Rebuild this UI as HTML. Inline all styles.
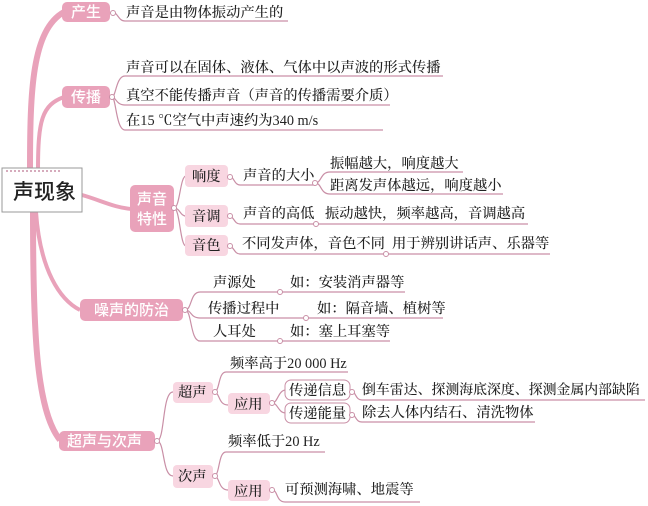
<!DOCTYPE html>
<html><head><meta charset="utf-8"><style>
html,body{margin:0;padding:0;background:#fff;width:648px;height:506px;overflow:hidden}
svg{display:block}
text{font-family:"Liberation Serif","Noto Serif CJK SC","Noto Sans CJK SC",serif;font-size:14.3px;fill:#222;font-weight:500}
.w{fill:#fff;font-family:"Liberation Sans","Noto Sans CJK SC",sans-serif;font-size:15px}
.l{stroke:#c98fa6;stroke-width:1.2;fill:none}
.dot{fill:#fff;stroke:#c98fa6;stroke-width:1}
.big{fill:#e9a2ba}
.sm{fill:#f8d6e1}
</style></head><body>
<svg width="648" height="506" viewBox="0 0 648 506">
<path d="M30 170 C30 90 32 30 64 12" stroke="#e9a2ba" stroke-width="6" fill="none"/>
<path d="M38 170 C38 120 42 105 64 97" stroke="#e9a2ba" stroke-width="4" fill="none"/>
<path d="M82 195 C100 200 115 208 132 209" stroke="#e9a2ba" stroke-width="4" fill="none"/>
<path d="M36 212 C40 270 60 300 80 310" stroke="#e9a2ba" stroke-width="4" fill="none"/>
<path d="M33 212 C33 330 36 410 60 440" stroke="#e9a2ba" stroke-width="6" fill="none"/>
<rect x="2" y="168" width="80" height="44" fill="#fff" stroke="#999" stroke-width="1"/>
<line x1="6" y1="171" x2="60" y2="171" stroke="#c98fa6" stroke-width="1.5" stroke-dasharray="2,2"/>
<text x="13" y="199" style="font-size:21px;font-family:'Liberation Sans','Noto Sans CJK SC',sans-serif">声现象</text>

<rect class="big" x="62" y="2" width="48" height="20" rx="5"/>
<text class="w" x="71" y="17">产生</text>
<path class="l" d="M112 12 C118 12 118 21 125 21 L288 21"/>
<circle class="dot" cx="113" cy="13" r="2.5"/>
<text x="126" y="17">声音是由物体振动产生的</text>

<rect class="big" x="62" y="86" width="48" height="22" rx="5"/>
<text class="w" x="71" y="102">传播</text>
<path class="l" d="M112 97 C116 97 116 76 125 76 L443 76"/>
<path class="l" d="M112 97 C116 97 116 105 125 105 L390 105"/>
<path class="l" d="M112 97 C116 97 116 130 125 130 L383 130"/>
<circle class="dot" cx="112" cy="97" r="2.5"/>
<text x="126" y="72">声音可以在固体、液体、气体中以声波的形式传播</text>
<text x="126" y="100">真空不能传播声音（声音的传播需要介质）</text>
<text x="126" y="125">在15 ℃空气中声速约为340 m/s</text>

<rect class="big" x="130" y="185" width="44" height="47" rx="5"/>
<text class="w" x="137" y="204">声音</text>
<text class="w" x="137" y="224">特性</text>
<path class="l" d="M174 208 C180 208 180 176 186 176"/>
<path class="l" d="M174 208 C180 208 180 216 186 216"/>
<path class="l" d="M174 208 C180 208 180 246 186 246"/>
<circle class="dot" cx="174" cy="208" r="2.5"/>
<rect class="sm" x="185" y="165" width="43" height="22" rx="4"/>
<text x="192" y="181">响度</text>
<rect class="sm" x="185" y="205" width="43" height="22" rx="4"/>
<text x="192" y="221">音调</text>
<rect class="sm" x="185" y="235" width="43" height="21" rx="4"/>
<text x="192" y="250">音色</text>
<path class="l" d="M229 176 C234 176 234 185 240 185 L315 185"/>
<circle class="dot" cx="230" cy="177" r="2.5"/>
<text x="243" y="180">声音的大小</text>
<path class="l" d="M315 183 C322 183 320 172 330 172 L463 172"/>
<path class="l" d="M315 183 C322 183 320 194 330 194 L503 194"/>
<circle class="dot" cx="315" cy="183" r="2.5"/>
<text x="330" y="168">振幅越大，响度越大</text>
<text x="330" y="190">距离发声体越远，响度越小</text>
<path class="l" d="M229 216 C234 216 234 224 240 224 L528 224"/>
<circle class="dot" cx="230" cy="216" r="2.5"/>
<circle class="dot" cx="316" cy="224" r="2.5"/>
<text x="243" y="218">声音的高低</text>
<text x="325" y="218">振动越快，频率越高，音调越高</text>
<path class="l" d="M229 246 C234 246 234 254 240 254 L550 254"/>
<circle class="dot" cx="230" cy="246" r="2.5"/>
<circle class="dot" cx="386" cy="254" r="2.5"/>
<text x="242" y="248">不同发声体，音色不同</text>
<text x="392" y="248">用于辨别讲话声、乐器等</text>

<rect class="big" x="80" y="299" width="103" height="22" rx="5"/>
<text class="w" x="94" y="315">噪声的防治</text>
<path class="l" d="M185 310 C192 310 190 292 200 292 L405 292"/>
<path class="l" d="M185 310 C192 310 190 318 200 318 L443 318"/>
<path class="l" d="M185 310 C192 310 190 341 200 341 L390 341"/>
<circle class="dot" cx="185" cy="310" r="2.5"/>
<circle class="dot" cx="280" cy="292" r="2.5"/>
<circle class="dot" cx="306" cy="318" r="2.5"/>
<circle class="dot" cx="280" cy="341" r="2.5"/>
<text x="213" y="287">声源处</text>
<text x="290" y="287">如：安装消声器等</text>
<text x="208" y="313">传播过程中</text>
<text x="317" y="313">如：隔音墙、植树等</text>
<text x="213" y="336">人耳处</text>
<text x="290" y="336">如：塞上耳塞等</text>

<rect class="big" x="59" y="431" width="96" height="20" rx="5"/>
<text class="w" x="67" y="446">超声与次声</text>
<path class="l" d="M157 441 C165 441 162 392 173 392"/>
<path class="l" d="M157 441 C165 441 162 476 173 476"/>
<circle class="dot" cx="157" cy="441" r="2.5"/>
<rect class="sm" x="173" y="382" width="40" height="21" rx="4"/>
<text x="178" y="397">超声</text>
<rect class="sm" x="173" y="465" width="40" height="23" rx="4"/>
<text x="178" y="481">次声</text>
<path class="l" d="M214 392 C220 392 218 372 226 372 L348 372"/>
<path class="l" d="M214 392 C220 392 218 405 228 405"/>
<circle class="dot" cx="215" cy="392" r="2.5"/>
<text x="230" y="368">频率高于20 000 Hz</text>
<rect class="sm" x="228" y="393" width="42" height="21" rx="4"/>
<text x="234" y="409">应用</text>
<path class="l" d="M272 403 C278 403 278 390 286 390"/>
<path class="l" d="M272 403 C278 403 278 413 286 413"/>
<circle class="dot" cx="272" cy="403" r="2.5"/>
<rect x="285" y="380" width="65" height="20" rx="6" fill="#fff" stroke="#c98fa6"/>
<rect x="285" y="403" width="65" height="20" rx="6" fill="#fff" stroke="#c98fa6"/>
<text x="289" y="395">传递信息</text>
<text x="289" y="418">传递能量</text>
<path class="l" d="M351 391 C356 391 355 400 362 400 L645 400"/>
<path class="l" d="M351 414 C356 414 355 422 362 422 L535 422"/>
<circle class="dot" cx="352" cy="392" r="2.5"/>
<circle class="dot" cx="352" cy="415" r="2.5"/>
<text x="362" y="394" style="font-size:13.9px">倒车雷达、探测海底深度、探测金属内部缺陷</text>
<text x="362" y="417">除去人体内结石、清洗物体</text>
<path class="l" d="M214 476 C220 476 218 452 226 452 L325 452"/>
<path class="l" d="M214 476 C220 476 218 490 228 490"/>
<circle class="dot" cx="215" cy="476" r="2.5"/>
<text x="228" y="446">频率低于20 Hz</text>
<rect class="sm" x="228" y="480" width="42" height="21" rx="4"/>
<text x="234" y="496">应用</text>
<path class="l" d="M272 490 C278 490 276 502 285 502 L420 502"/>
<circle class="dot" cx="272" cy="490" r="2.5"/>
<text x="285" y="494">可预测海啸、地震等</text>
</svg>
</body></html>
